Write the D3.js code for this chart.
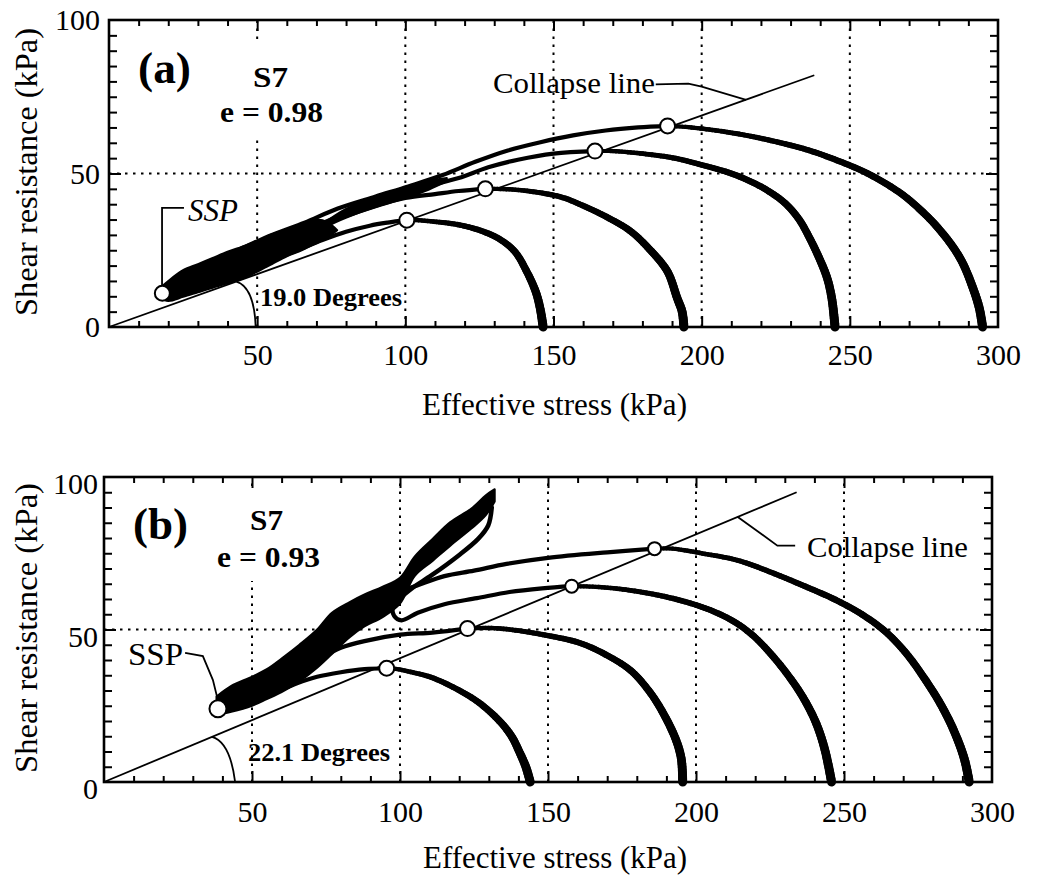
<!DOCTYPE html>
<html><head><meta charset="utf-8">
<script src="https://cdn.jsdelivr.net/npm/d3@7"></script>
<style>
body{margin:0;background:#fff}
svg{display:block}
text{font-family:"Liberation Serif","Times New Roman",serif;fill:#000}
</style>
</head><body>
<svg id="chart" width="1039" height="883"></svg>
<script>
// ---------- shared axis data ----------
const xLabelTicks = [50, 100, 150, 200, 250, 300];
const yLabelTicks = [0, 50, 100];
const xGrid = [50, 100, 150, 200, 250];
const yGrid = [50];
const xMinor = [10,20,30,40,60,70,80,90,110,120,130,140,160,170,180,190,210,220,230,240,260,270,280,290];
const yMinor = [5,10,15,20,25,30,35,40,45,55,60,65,70,75,80,85,90,95];
const xTitle = "Effective stress (kPa)";
const yTitle = "Shear resistance (kPa)";

// ---------- panel (a) ----------
const aPeakX = [100.5, 127, 164, 188.5];
const aPeakY = [34.8, 45, 57.3, 65.5];
const aSSP = [18, 11];
const aCollapseEnd = [238, 82];
const aArc1 = [[146.5,0],[145.5,6],[144,11.5],[141,18],[137,24.5],[132,28.5],[126,31.2],[118,33.3],[110,34.3],[104,34.8],[100.5,34.8]];
const aArc2 = [[194,0],[193.4,5],[191.7,9.5],[188.5,18],[183,24.7],[176,31.2],[168,35.8],[160,39.5],[153,42.2],[145,43.8],[136,44.8],[127,45]];
const aArc3 = [[245,0],[243.9,9.4],[242.3,16.1],[239.5,22.8],[236.2,29.4],[232.9,35],[228.5,40],[223,44],[217,47.2],[210,50],[200,52.8],[190.8,55],[179.8,56.5],[170,57.3],[164,57.3]];
const aArc4 = [[294.8,0],[293.7,6.1],[291.5,12.8],[288.2,20.6],[284.8,26.1],[279.3,32.8],[274,38],[268.5,42.6],[262,46.8],[255,50.5],[247,53.8],[236,57.6],[224,60.6],[212.9,62.8],[201.9,64.4],[194,65.2],[188.5,65.5]];
const aBr1 = [[100.5,34.8],[94,34],[88,33],[80,31],[72,28.3],[66,26],[58,22.8],[50,19.5],[40,16],[30,13],[22,11],[18,11]];
const aBr2 = [[127,45],[118,44.3],[110,43.3],[100,42],[90,39.5],[80,36],[72,32.5],[64,28.5],[55,24.5],[45,20.5],[35,16.5],[26,13],[18,11]];
const aBr3 = [[164,57.3],[150,56.5],[138,54.5],[128,52],[118,48.5],[108,46],[100,44],[90,41],[80,37],[70,33],[60,29],[50,25],[40,21],[30,17],[22,13.5],[18,11]];
const aBr4 = [[188.5,65.5],[178.6,65],[167.6,64],[156.6,62.4],[145.6,60.2],[134.6,57.5],[123.6,53.8],[112.6,49.5],[101,45.8],[90,42.5],[77,38.5],[66,34],[55,30],[44,25.3],[33,21],[22,15.5],[18,11]];
const aBandX  = [17, 20, 25, 30, 35, 40, 45, 50, 55, 60, 65, 70, 74, 77];
const aBandLo = [9.5, 8.5, 9.8, 11.3, 12.8, 14.2, 15.8, 18, 20.5, 23, 25, 27.3, 29.3, 31.5];
const aBandHi = [12.5, 15, 18.5, 20.5, 22.5, 24.5, 26.2, 28, 30.2, 31.8, 33.3, 35, 34, 31.5];
const aBand2X  = [72, 80, 90, 100, 108, 114];
const aBand2Lo = [33, 35.8, 39, 42, 44.8, 47.5];
const aBand2Hi = [33.5, 38.5, 42.3, 45.6, 47.6, 48.5];
const aAngleArc = [[43, 14.8], [49, 13], [49.5, 0]];
const aSSPLeader = [[17.9, 13.5], [17.9, 38.8], [25.3, 38.8]];
const aCollapseLeader = [[184.5, 79], [195.5, 79.3], [200, 78.3], [215, 74]];

// ---------- panel (b) ----------
const bPeakX = [95.5, 122.8, 158, 186];
const bPeakY = [37.3, 50.3, 64.2, 76.5];
const bSSP = [38.5, 24];
const bCollapseEnd = [234, 95];
const bArc1 = [[144,0],[142.5,5],[140.5,9.5],[138,14.5],[135,18.5],[131,22.5],[126,26.5],[121,29.5],[115,32.5],[110,34.5],[104,36],[99,37],[95.5,37.3]];
const bArc2 = [[195.5,0],[195,7.8],[193,14.4],[188.5,23.3],[184,30],[178,36.5],[170,41.5],[161,45.5],[150,48],[137,50],[130,50.5],[122.8,50.3]];
const bArc3 = [[245.8,0],[243.5,10.7],[240.5,19.5],[236,28],[230.5,35.8],[225,42.3],[219.5,47.8],[213,52.5],[205,56.3],[196,59.2],[186,61.5],[175,63.2],[166,64],[158,64.2]];
const bArc4 = [[292.3,0],[290.7,7.4],[287.4,16.2],[283,24.9],[277.5,33.5],[271,42.2],[264,49.3],[256,55],[247,59.8],[236,64.5],[225,68.9],[214,72.7],[203,74.8],[192,76.5],[186,76.5]];
const bBr1 = [[95.5,37.3],[88,37],[80,36],[72,34.5],[65,32.3],[58,29.5],[50,27],[42,25],[38.5,24]];
const bBr2 = [[122.8,50.3],[111,49],[100,48.3],[88,46.2],[80,44],[74,41]];
const bBr3 = [[158,64.2],[148,63.5],[137,62.3],[126,60.3],[115,58.3],[106,55.5],[100.5,53],[98,54.5],[97.5,57.5],[98.5,60]];
const bBr4 = [[186,76.5],[170,75.3],[150,73.5],[136,71.5],[125,69.3],[115,67.5],[106,64.5],[100,62.5]];
const bStrand = [[99,59.5],[104,63.5],[110.7,67.8],[119.7,74.2],[126.4,79.7],[129.8,84.1],[131,90]];
const bBandX  = [38, 43, 50, 55, 60, 66, 72, 77, 83, 88, 94, 100, 105, 111, 117, 124, 129, 132];
const bBandLo = [22, 23, 25, 27.2, 29.5, 33, 37.5, 42, 47.5, 51, 54, 58.5, 67.6, 72.5, 77.5, 83, 87.5, 92];
const bBandHi = [28, 31.5, 34.5, 37, 40.5, 45, 50, 55.5, 59, 61.5, 64, 67, 74, 79.7, 85.2, 89.6, 94, 96];
const bAngleArc = [[36.5, 14.8], [42.6, 13.1], [44.3, 0]];
const bSSPLeader = [[27.4, 42.3], [33.4, 41.3], [36.8, 33.4], [38.2, 27.9]];
const bCollapseLeader = [[233.5, 77.5], [227.5, 77.5], [214, 87]];

// ---------- drawing ----------
const svg = d3.select("#chart");
svg.append("rect").attr("width", 1039).attr("height", 883).attr("fill", "#fff");
const FONT = '"Liberation Serif","Times New Roman",serif';

function varStroke(g, pts, x, y, w0, w1) {
  const ln = d3.line().x(d => x(d[0])).y(d => y(d[1])).curve(d3.curveCatmullRom.alpha(0.5));
  const tmp = g.append("path").attr("d", ln(pts)).attr("fill", "none");
  const node = tmp.node();
  const L = node.getTotalLength();
  const N = Math.max(12, Math.round(L / 3));
  const s = d3.range(N + 1).map(i => node.getPointAtLength(L * i / N));
  tmp.remove();
  for (let i = 0; i < N; i++) {
    g.append("line")
      .attr("x1", s[i].x).attr("y1", s[i].y).attr("x2", s[i + 1].x).attr("y2", s[i + 1].y)
      .attr("stroke", "#000").attr("stroke-linecap", "round")
      .attr("stroke-width", w0 + (w1 - w0) * (i / N));
  }
}

function panel(c) {
  const g = svg.append("g");
  const x = d3.scaleLinear().domain([0, 300]).range([c.x0, c.x1]);
  const y = d3.scaleLinear().domain([0, 100]).range([c.y0, c.y1]);
  const ln = d3.line().x(d => x(d[0])).y(d => y(d[1])).curve(d3.curveCatmullRom.alpha(0.5));

  const gridLayer = g.append("g");
  const maskLayer = g.append("g");
  const axisLayer = g.append("g");
  const dataLayer = g.append("g");
  const annLayer = g.append("g");

  // grid
  gridLayer.append("g").selectAll("line").data(xGrid).join("line")
    .attr("x1", d => x(d)).attr("x2", d => x(d)).attr("y1", y(0)).attr("y2", y(100))
    .attr("stroke", "#000").attr("stroke-width", 2).attr("stroke-dasharray", "2.5,5.5");
  gridLayer.append("g").selectAll("line").data(yGrid).join("line")
    .attr("x1", x(0)).attr("x2", x(300)).attr("y1", d => y(d)).attr("y2", d => y(d))
    .attr("stroke", "#000").attr("stroke-width", 2).attr("stroke-dasharray", "2.5,5.5");

  // inward ticks
  const tk = (sel) => { sel.select(".domain").remove(); sel.selectAll("line").attr("stroke-width", 2); };
  axisLayer.append("g").attr("transform", `translate(0,${y(0)})`).call(d3.axisBottom(x).tickValues(xMinor).tickSize(-6).tickFormat("")).call(tk);
  axisLayer.append("g").attr("transform", `translate(0,${y(100)})`).call(d3.axisTop(x).tickValues(xMinor).tickSize(-6).tickFormat("")).call(tk);
  axisLayer.append("g").attr("transform", `translate(0,${y(0)})`).call(d3.axisBottom(x).tickValues(xGrid).tickSize(-11).tickFormat("")).call(tk);
  axisLayer.append("g").attr("transform", `translate(0,${y(100)})`).call(d3.axisTop(x).tickValues(xGrid).tickSize(-11).tickFormat("")).call(tk);
  axisLayer.append("g").attr("transform", `translate(${x(0)},0)`).call(d3.axisLeft(y).tickValues(yMinor).tickSize(-8).tickFormat("")).call(tk);
  axisLayer.append("g").attr("transform", `translate(${x(300)},0)`).call(d3.axisRight(y).tickValues(yMinor).tickSize(-8).tickFormat("")).call(tk);
  axisLayer.append("g").attr("transform", `translate(${x(0)},0)`).call(d3.axisLeft(y).tickValues(yGrid).tickSize(-12).tickFormat("")).call(tk);
  axisLayer.append("g").attr("transform", `translate(${x(300)},0)`).call(d3.axisRight(y).tickValues(yGrid).tickSize(-12).tickFormat("")).call(tk);

  // tick labels
  const xl = axisLayer.append("g").attr("transform", `translate(0,${y(0)})`)
    .call(d3.axisBottom(x).tickValues(xLabelTicks).tickSize(0).tickPadding(c.xPad).tickFormat(d3.format("d")));
  xl.select(".domain").remove();
  xl.attr("font-size", 30).attr("font-family", FONT);
  const yl = axisLayer.append("g").attr("transform", `translate(${x(0)},0)`)
    .call(d3.axisLeft(y).tickValues(yLabelTicks).tickSize(0).tickPadding(c.yPad).tickFormat(d3.format("d")));
  yl.select(".domain").remove();
  yl.attr("font-size", 30).attr("font-family", FONT);
  yl.selectAll("text").attr("dy", c.yDy);

  // frame
  axisLayer.append("rect").attr("x", x(0)).attr("y", y(100)).attr("width", x(300) - x(0)).attr("height", y(0) - y(100))
    .attr("fill", "none").attr("stroke", "#000").attr("stroke-width", 2.6);

  // S7 / e labels with white mask behind
  const sText = annLayer.append("g");
  sText.append("text").attr("x", c.s7[0]).attr("y", c.s7[1]).attr("font-weight", "bold").attr("font-size", 30)
    .attr("textLength", c.s7[2]).attr("lengthAdjust", "spacingAndGlyphs").text("S7");
  sText.append("text").attr("x", c.eT[0]).attr("y", c.eT[1]).attr("font-weight", "bold").attr("font-size", 30)
    .attr("textLength", c.eT[2]).attr("lengthAdjust", "spacingAndGlyphs").text(c.eLabel);
  const bb = sText.node().getBBox();
  maskLayer.append("rect").attr("x", bb.x - 4).attr("y", bb.y - 16).attr("width", bb.width + 8).attr("height", bb.height + 24).attr("fill", "#fff");

  // bands
  const area = d3.area().x(d => x(d.x)).y0(d => y(d.lo)).y1(d => y(d.hi)).curve(d3.curveCatmullRom.alpha(0.5));
  c.bands.forEach(bd => {
    const data = bd[0].map((v, i) => ({x: v, lo: bd[1][i], hi: bd[2][i]}));
    dataLayer.append("path").datum(data).attr("d", area)
      .attr("fill", "#000").attr("stroke", "#000").attr("stroke-width", 2).attr("stroke-linejoin", "round");
  });

  // stress paths
  c.arcs.forEach(a => varStroke(dataLayer, a, x, y, c.wBottom, c.wTop));
  c.branches.forEach(b => {
    dataLayer.append("path").attr("d", ln(b)).attr("fill", "none").attr("stroke", "#000")
      .attr("stroke-width", c.wBranch).attr("stroke-linecap", "round").attr("stroke-linejoin", "round");
  });
  if (c.strand) {
    dataLayer.append("path").attr("d", ln(c.strand)).attr("fill", "none").attr("stroke", "#000")
      .attr("stroke-width", 4.5).attr("stroke-linecap", "round");
  }

  // collapse line
  dataLayer.append("line").attr("x1", x(0)).attr("y1", y(0)).attr("x2", x(c.collapseEnd[0])).attr("y2", y(c.collapseEnd[1]))
    .attr("stroke", "#000").attr("stroke-width", 1.8);

  // angle label + arc
  const degT = annLayer.append("text").attr("x", c.degT[0]).attr("y", c.degT[1]).attr("font-weight", "bold").attr("font-size", 26)
    .attr("textLength", c.degT[2]).attr("lengthAdjust", "spacingAndGlyphs").text(c.degLabel);
  if (c.degMask) {
    const db = degT.node().getBBox();
    maskLayer.append("rect").attr("x", db.x).attr("y", db.y - 12).attr("width", db.width).attr("height", db.height + 10).attr("fill", "#fff");
  }
  const p = d3.path();
  p.moveTo(x(c.angleArc[0][0]), y(c.angleArc[0][1]));
  p.quadraticCurveTo(x(c.angleArc[1][0]), y(c.angleArc[1][1]), x(c.angleArc[2][0]), y(c.angleArc[2][1]));
  annLayer.append("path").attr("d", p.toString()).attr("fill", "none").attr("stroke", "#000").attr("stroke-width", 1.8);

  // circles (peaks + SSP)
  const circ = c.peakX.map((v, i) => ({x: v, y: c.peakY[i], r: c.peakR[i]}));
  circ.push({x: c.ssp[0], y: c.ssp[1], r: c.sspR});
  dataLayer.append("g").selectAll("circle").data(circ).join("circle")
    .attr("cx", d => x(d.x)).attr("cy", d => y(d.y)).attr("r", d => d.r)
    .attr("fill", "#fff").attr("stroke", "#000").attr("stroke-width", 2);

  // leaders
  const lnS = d3.line().x(d => x(d[0])).y(d => y(d[1]));
  annLayer.append("path").attr("d", lnS(c.sspLeader)).attr("fill", "none").attr("stroke", "#000").attr("stroke-width", 1.8);
  annLayer.append("path").attr("d", lnS(c.collapseLeader)).attr("fill", "none").attr("stroke", "#000").attr("stroke-width", 1.8);

  // texts
  annLayer.append("text").attr("x", c.panelT[0]).attr("y", c.panelT[1]).attr("font-weight", "bold").attr("font-size", 44)
    .attr("textLength", c.panelT[2]).attr("lengthAdjust", "spacingAndGlyphs").text(c.panelLabel);
  annLayer.append("text").attr("x", c.sspT[0]).attr("y", c.sspT[1]).attr("font-size", 31).attr("font-style", c.sspItalic ? "italic" : "normal")
    .attr("textLength", c.sspT[2]).attr("lengthAdjust", "spacingAndGlyphs").text("SSP");
  annLayer.append("text").attr("x", c.colT[0]).attr("y", c.colT[1]).attr("font-size", 30)
    .attr("textLength", c.colT[2]).attr("lengthAdjust", "spacingAndGlyphs").text("Collapse line");
  annLayer.append("text").attr("x", c.xTitle[0]).attr("y", c.xTitle[1]).attr("font-size", 31)
    .attr("textLength", c.xTitle[2]).attr("lengthAdjust", "spacingAndGlyphs").text(xTitle);
  annLayer.append("text").attr("transform", `translate(${c.yTitle[0]},${c.yTitle[1]}) rotate(-90)`).attr("text-anchor", "middle")
    .attr("font-size", 31).attr("textLength", c.yTitle[2]).attr("lengthAdjust", "spacingAndGlyphs").text(yTitle);
}

panel({
  x0: 109, x1: 998, y0: 327, y1: 20, xPad: 17, yPad: 9, yDy: "0.32em",
  peakX: aPeakX, peakY: aPeakY, peakR: [7.5, 7.5, 7.5, 7.5], ssp: aSSP, sspR: 7.5,
  collapseEnd: aCollapseEnd,
  arcs: [aArc1, aArc2, aArc3, aArc4], branches: [aBr1, aBr2, aBr3, aBr4], strand: null,
  wBottom: 9, wTop: 4, wBranch: 4.2,
  bands: [[aBandX, aBandLo, aBandHi], [aBand2X, aBand2Lo, aBand2Hi]],
  angleArc: aAngleArc, sspLeader: aSSPLeader, collapseLeader: aCollapseLeader,
  panelLabel: "(a)", panelT: [138, 83, 53],
  s7: [253, 87, 35], eT: [220, 122, 103], eLabel: "e = 0.98",
  sspT: [188, 221, 50], sspItalic: true,
  degT: [260, 306, 142], degLabel: "19.0 Degrees", degMask: true,
  colT: [493, 93, 162],
  xTitle: [422, 415, 265], yTitle: [37, 172, 288]
});

panel({
  x0: 104, x1: 992, y0: 782, y1: 477, xPad: 19, yPad: 6, yDy: "0.55em",
  peakX: bPeakX, peakY: bPeakY, peakR: [7.5, 7.5, 6.5, 6.5], ssp: bSSP, sspR: 8.5,
  collapseEnd: bCollapseEnd,
  arcs: [bArc1, bArc2, bArc3, bArc4], branches: [bBr1, bBr2, bBr3, bBr4], strand: bStrand,
  wBottom: 9, wTop: 4, wBranch: 4.2,
  bands: [[bBandX, bBandLo, bBandHi]],
  angleArc: bAngleArc, sspLeader: bSSPLeader, collapseLeader: bCollapseLeader,
  panelLabel: "(b)", panelT: [133, 539, 55],
  s7: [250, 530, 33], eT: [217, 567, 103], eLabel: "e = 0.93",
  sspT: [128, 665, 55], sspItalic: false,
  degT: [248, 761, 142], degLabel: "22.1 Degrees", degMask: false,
  colT: [807, 557, 161],
  xTitle: [423, 868, 264], yTitle: [37, 628, 290]
});
</script>
</body></html>
